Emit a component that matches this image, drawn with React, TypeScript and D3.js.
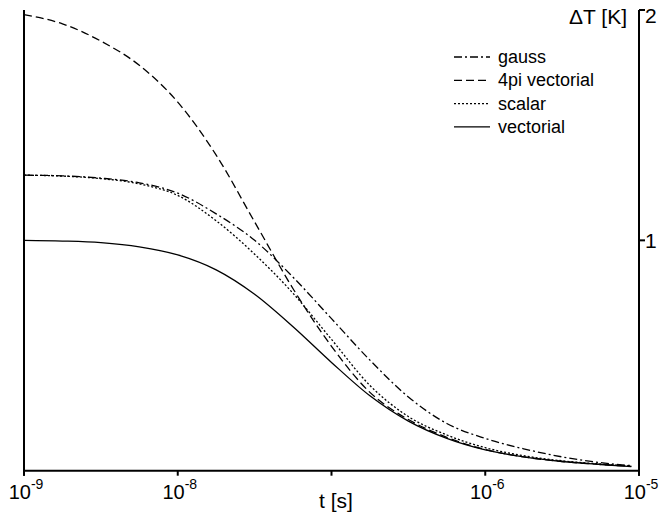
import React from "react";
import * as d3 from "d3";

const W = 661;
const H = 523;

// sample times as log10(t [s])
const logT = [-9, -8.75, -8.5, -8.25, -8, -7.75, -7.5, -7.25, -7, -6.75, -6.5, -6.25, -6, -5.75, -5.5, -5.25, -5.05];

const gauss = [1.283, 1.28, 1.27, 1.25, 1.205, 1.115, 1.0, 0.84, 0.66, 0.48, 0.32, 0.205, 0.14, 0.095, 0.06, 0.035, 0.022];
const fourPi = [1.98, 1.94, 1.865, 1.76, 1.6, 1.37, 1.08, 0.79, 0.54, 0.34, 0.222, 0.145, 0.092, 0.06, 0.04, 0.027, 0.019];
const scalar = [1.283, 1.279, 1.268, 1.245, 1.195, 1.085, 0.94, 0.77, 0.57, 0.37, 0.235, 0.155, 0.1, 0.065, 0.043, 0.029, 0.021];
const vectorial = [1.0, 0.997, 0.99, 0.972, 0.937, 0.872, 0.766, 0.625, 0.47, 0.325, 0.215, 0.14, 0.09, 0.06, 0.04, 0.027, 0.018];

const xTickExps = [-9, -8, -7, -6, -5];
const xTickLabelExps = [-9, -8, -6, -5];
const yTicks = [1, 2];

const legendNames = ["gauss", "4pi vectorial", "scalar", "vectorial"];
const dashes = ["8,3,2,3", "8,4", "2,2", ""];

export default function App() {
  const x = d3.scaleLog().domain([1e-9, 1e-5]).range([24, 639]);
  const y = d3.scaleLinear().domain([0, 2]).range([470.7, 10]);
  const series = [gauss, fourPi, scalar, vectorial];
  const line = d3
    .line<[number, number]>()
    .x((d) => x(Math.pow(10, d[0])))
    .y((d) => y(d[1]))
    .curve(d3.curveMonotoneX);
  const font = "Liberation Sans, Arial, sans-serif";
  return (
    <svg
      width={W}
      height={H}
      style={{ position: "absolute", left: 0, top: 0, background: "#fff" }}
      fontFamily={font}
    >
      {series.map((s, i) => (
        <path
          key={i}
          d={line(logT.map((lt, j) => [lt, s[j]] as [number, number])) || ""}
          fill="none"
          stroke="#000"
          strokeWidth={1.3}
          strokeDasharray={dashes[i] || undefined}
        />
      ))}
      {/* axes */}
      <line x1={x(1e-9)} x2={x(1e-5)} y1={y(0)} y2={y(0)} stroke="#000" strokeWidth={2} />
      <line x1={x(1e-9)} x2={x(1e-9)} y1={y(2)} y2={y(0) + 5} stroke="#000" strokeWidth={2} />
      <line x1={x(1e-5)} x2={x(1e-5)} y1={y(2)} y2={y(0) + 5} stroke="#000" strokeWidth={2} />
      {xTickExps.map((e) => (
        <line key={e} x1={x(Math.pow(10, e))} x2={x(Math.pow(10, e))} y1={y(0)} y2={y(0) + 5} stroke="#000" strokeWidth={2} />
      ))}
      {xTickLabelExps.map((e) => (
        <text key={e} x={x(Math.pow(10, e)) + 2} y={499} textAnchor="middle" fontSize={20}>
          10
          <tspan dy={-10} fontSize={14}>
            {String(e)}
          </tspan>
        </text>
      ))}
      <text x={336} y={508} textAnchor="middle" fontSize={21}>
        t [s]
      </text>
      {yTicks.map((v) => (
        <g key={v}>
          <line x1={x(1e-5)} x2={x(1e-5) + 6} y1={y(v)} y2={y(v)} stroke="#000" strokeWidth={2} />
          <text x={645} y={y(v) + (v === 2 ? 13 : 8)} fontSize={21}>
            {v}
          </text>
        </g>
      ))}
      <text x={627} y={24} textAnchor="end" fontSize={21}>
        ΔT [K]
      </text>
      {/* legend */}
      {legendNames.map((n, i) => (
        <g key={n}>
          <line x1={454} x2={490} y1={57 + i * 23.3} y2={57 + i * 23.3} stroke="#000" strokeWidth={1.3} strokeDasharray={dashes[i] || undefined} />
          <text x={498} y={57 + i * 23.3 + 6} fontSize={18}>
            {n}
          </text>
        </g>
      ))}
    </svg>
  );
}
